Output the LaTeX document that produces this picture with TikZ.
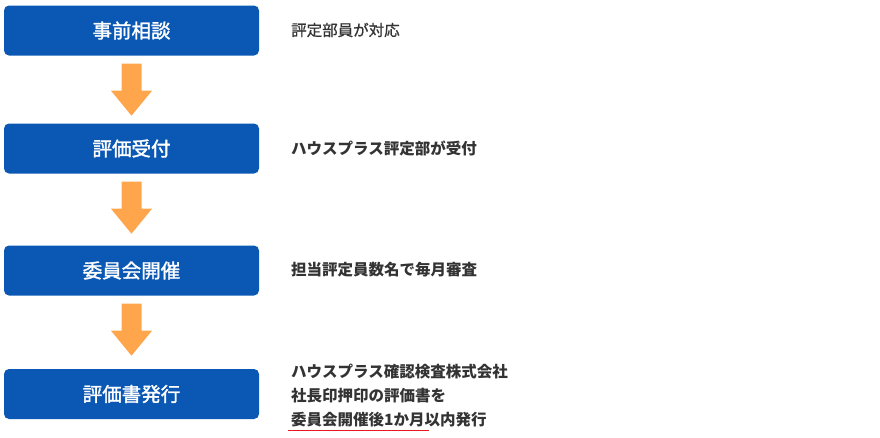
\documentclass[tikz,border=0pt]{standalone}
\usepackage{fontspec}
\setmainfont{Noto Sans CJK JP}
\newfontfamily\labelfont{Noto Sans CJK JP}[FakeBold=1.6]
\newfontfamily\descfont{Noto Sans CJK JP}[FakeBold=0.8]
\usetikzlibrary{calc}
\definecolor{boxblue}{HTML}{0A58B4}
\definecolor{arroworange}{HTML}{FFA64D}
\definecolor{txtgray}{HTML}{333333}
\definecolor{ulred}{HTML}{E8181E}
\begin{document}
\begin{tikzpicture}[x=1pt,y=-1pt,
  stepbox/.style={fill=boxblue, rounded corners=5pt, minimum width=255pt, minimum height=50pt, inner sep=0pt, text=white, font=\fontsize{19.5}{22}\labelfont},
  desc/.style={anchor=west, inner sep=0pt, text=txtgray, font=\fontsize{15.5}{18}\selectfont\bfseries},
  flowarrow/.style={fill=arroworange, draw=none}
]
\useasboundingbox (0,0) rectangle (880,437);
\node[stepbox] (b1) at (131.5,30.5) {事前相談};
\node[stepbox] (b2) at (131.5,148.5) {評価受付};
\node[stepbox] (b3) at (131.5,270.5) {委員会開催};
\node[stepbox] (b4) at (131.5,394) {評価書発行};
\foreach \a in {1,2,3}{
  \fill[flowarrow] ($(b\a.south)+(-10,8)$) -- ($(b\a.south)+(10,8)$) -- ($(b\a.south)+(10,35)$) -- ($(b\a.south)+(20.5,35)$) -- ($(b\a.south)+(0,60)$) -- ($(b\a.south)+(-20.5,35)$) -- ($(b\a.south)+(-10,35)$) -- cycle;
}
\node[desc,font=\fontsize{15.5}{18}\descfont] (t1) at (291,30) {評定部員が対応};
\node[desc] (t2) at (291,148) {ハウスプラス評定部が受付};
\node[desc] (t3) at (291,270) {担当評定員数名で毎月審査};
\node[desc] (t4a) at (291,372) {ハウスプラス確認検査株式会社};
\node[desc] (t4b) at (291,396) {社長印押印の評価書を};
\node[desc] (t4c) at (291,420) {委員会開催後1か月以内発行};
\coordinate (u1) at (288,430.5);
\coordinate (u2) at (429,430.5);
\draw[ulred, line width=1pt] (u1) -- (u2);
\end{tikzpicture}
\end{document}
